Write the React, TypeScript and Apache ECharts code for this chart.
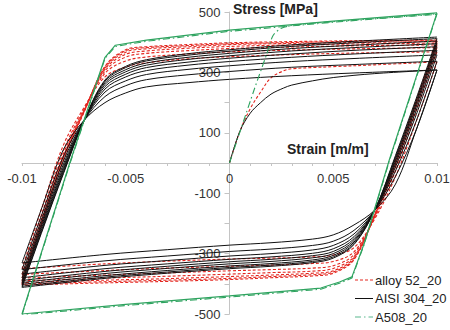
import React, { useEffect, useRef } from 'react';
import * as echarts from 'echarts';

// ---- strain samples (m/m) ----
const upStrain = [-0.01, -0.009, -0.008, -0.007, -0.006, -0.005, -0.004, -0.002, 0, 0.003, 0.006, 0.01];
const downStrain = [0.01, 0.009, 0.008, 0.007, 0.006, 0.005, 0.004, 0.002, 0, -0.003, -0.006, -0.01];
const initStrain = [0, 0.0005, 0.001, 0.0015, 0.002, 0.0026, 0.003, 0.004, 0.005, 0.007, 0.01];

// ---- AISI 304_20 (MPa) ----
const aisiInitial = [0, 105, 165, 200, 228, 248, 258, 272, 283, 296, 308];
const aisiLower = [
  [308, 110, -70, -156, -205, -238, -252, -264, -272, -287, -303, -331],
  [308, 110, -44, -156, -223, -259, -273, -285, -293, -308, -324, -353],
  [337, 139, -26, -156, -235, -273, -288, -300, -308, -323, -339, -368],
  [358, 160, -13, -156, -244, -284, -299, -311, -319, -334, -350, -380],
  [373, 175, -3, -156, -251, -293, -307, -319, -327, -342, -359, -389],
  [385, 187, 6, -156, -257, -300, -314, -326, -334, -349, -366, -396],
  [395, 197, 14, -156, -262, -306, -321, -333, -341, -356, -373, -402],
  [404, 206, 20, -156, -267, -311, -326, -338, -346, -361, -378, -408],
  [412, 214, 25, -156, -270, -315, -330, -342, -350, -365, -382, -412],
];
const aisiUpper = [
  [-331, -140, 45, 142, 200, 232, 252, 266, 277, 289, 298, 308],
  [-353, -162, 23, 142, 220, 256, 276, 292, 303, 317, 326, 337],
  [-368, -177, 8, 142, 235, 272, 293, 310, 322, 336, 346, 358],
  [-380, -188, -3, 142, 245, 285, 306, 324, 336, 350, 361, 373],
  [-389, -197, -12, 142, 253, 294, 316, 334, 347, 361, 373, 385],
  [-396, -204, -19, 142, 260, 302, 324, 343, 355, 371, 382, 395],
  [-402, -210, -25, 142, 266, 309, 331, 350, 363, 379, 390, 404],
  [-408, -216, -31, 142, 271, 316, 338, 357, 370, 386, 398, 412],
  [-412, -220, -35, 142, 275, 320, 342, 362, 375, 391, 403, 417],
];

// ---- alloy 52_20 (MPa) ----
const alloyInitial = [0, 105, 180, 235, 282, 305, 312, 316, 319, 325, 335];
const alloyLower = [
  [335, 138, -45, -185, -280, -305, -311, -315, -318, -325, -334, -350],
  [368, 171, -26, -180, -294, -326, -333, -338, -342, -348, -356, -369],
  [382, 185, -13, -176, -303, -340, -348, -353, -357, -364, -371, -381],
  [391, 194, -4, -174, -310, -349, -358, -363, -368, -375, -381, -390],
  [397, 200, 2, -172, -314, -357, -365, -371, -376, -383, -388, -396],
  [402, 205, 7, -171, -318, -361, -370, -376, -382, -388, -393, -401],
  [405, 208, 10, -170, -320, -365, -374, -380, -386, -392, -397, -404],
];
const alloyUpper = [
  [-350, -140, 60, 185, 285, 318, 332, 345, 352, 359, 364, 368],
  [-369, -159, 42, 180, 297, 338, 351, 361, 368, 374, 378, 382],
  [-381, -172, 31, 176, 305, 351, 363, 372, 379, 384, 388, 391],
  [-390, -181, 23, 174, 311, 360, 371, 380, 386, 391, 394, 397],
  [-396, -187, 17, 172, 315, 367, 378, 385, 392, 396, 399, 402],
  [-401, -192, 13, 171, 318, 372, 382, 389, 395, 399, 403, 405],
  [-404, -195, 10, 170, 320, 375, 385, 392, 398, 402, 405, 407],
];

// ---- A508_20 ----
const a508InitStrain = [0, 0.0012, 0.0018, 0.0021, 0.0025, 0.0031, 0.005, 0.01];
const a508Initial = [0, 245, 362, 422, 446, 456, 468, 492];
const a508UpStrain = [-0.01, -0.0077, -0.006, -0.0055, -0.004, 0, 0.005, 0.01];
const a508DownStrain = [0.01, 0.0077, 0.0065, 0.0059, 0.0053, 0.0044, 0, -0.005, -0.01];
const a508Upper1 = [-503, -4, 346, 386, 403, 436, 466, 494];
const a508Lower1 = [494, 6, -268, -381, -398, -418, -444, -472, -503];
const a508Upper2 = [-500, 0, 350, 390, 407, 440, 470, 497];
const a508Lower2 = [497, 10, -265, -377, -394, -414, -440, -468, -500];

const legendNames = ['alloy 52_20', 'AISI 304_20', 'A508_20'];
const xTicks = { min: -0.01, max: 0.01, step: 0.001 };
const yTicks = { min: -500, max: 500, step: 100 };

const BLACK = '#111111';
const RED = '#e3261f';
const GREEN = '#2ea35f';
const FONT = '"Liberation Sans", Arial, sans-serif';

const pairs = (xs: number[], ys: number[]) => xs.map((x, i) => [x, ys[i]]);

const mk = (name: string, data: number[][], color: string, type: any, width: number, smooth: number | boolean, z: number) => ({
  type: 'line',
  name,
  data,
  symbol: 'none',
  smooth,
  silent: true,
  z,
  lineStyle: { color, type, width },
  itemStyle: { color },
});

const GRID = { left: 22, right: 13, top: 12, bottom: 16 };
const W = 450;
const H = 330;

export default function App() {
  const ref = useRef<HTMLDivElement>(null);
  useEffect(() => {
    if (!ref.current) return;
    const chart = echarts.init(ref.current, undefined, { renderer: 'svg' });
    const series: any[] = [];
    // alloy 52 (drawn first, black lies over it)
    const redDash = [3, 2];
    series.push(mk('alloy 52_20', pairs(initStrain, alloyInitial), RED, redDash, 1.1, 0.35, 2));
    alloyUpper.forEach((up, k) => {
      series.push(mk('alloy 52_20', pairs(downStrain, alloyLower[k]), RED, redDash, 1.1, 0.35, 2));
      series.push(mk('alloy 52_20', pairs(upStrain, up), RED, redDash, 1.1, 0.35, 2));
    });
    // AISI 304
    series.push(mk('AISI 304_20', pairs(initStrain, aisiInitial), BLACK, 'solid', 1, 0.35, 3));
    aisiUpper.forEach((up, k) => {
      series.push(mk('AISI 304_20', pairs(downStrain, aisiLower[k]), BLACK, 'solid', 1, 0.35, 3));
      series.push(mk('AISI 304_20', pairs(upStrain, up), BLACK, 'solid', 1, 0.35, 3));
    });
    // A508
    const dashDot = [7, 3, 1.5, 3];
    series.push(mk('A508_20', pairs(a508InitStrain, a508Initial), GREEN, dashDot, 1.1, 0.3, 4));
    series.push(mk('A508_20', pairs(a508DownStrain, a508Lower1), GREEN, dashDot, 1.1, false, 4));
    series.push(mk('A508_20', pairs(a508UpStrain, a508Upper1), GREEN, dashDot, 1.1, false, 4));
    series.push(mk('A508_20 cycle 2', pairs(a508DownStrain, a508Lower2), GREEN, 'solid', 1.2, false, 4));
    series.push(mk('A508_20 cycle 2', pairs(a508UpStrain, a508Upper2), GREEN, 'solid', 1.2, false, 4));

    const gridH = H - GRID.top - GRID.bottom;
    const gridW = W - GRID.left - GRID.right;

    // custom legend (line samples + text)
    const legendStyles = [
      { stroke: RED, lineDash: [3, 2], lineWidth: 1.1 },
      { stroke: BLACK, lineDash: null, lineWidth: 1 },
      { stroke: '#5bb88e', lineDash: [6, 3, 1.5, 3], lineWidth: 1.1 },
    ];
    const legendRowsY = [280, 298.5, 317];
    const legendGraphics: any[] = [];
    legendNames.forEach((name, i) => {
      legendGraphics.push({
        type: 'line',
        shape: { x1: 355, y1: legendRowsY[i], x2: 373, y2: legendRowsY[i] },
        style: { ...legendStyles[i] },
        silent: true,
      });
      legendGraphics.push({
        type: 'text',
        x: 375,
        y: legendRowsY[i],
        style: { text: name, font: `13px ${FONT}`, fill: '#222', textVerticalAlign: 'middle', verticalAlign: 'middle' },
        silent: true,
      });
    });

    chart.setOption({
      animation: false,
      grid: { ...GRID, containLabel: false, outerBoundsMode: 'none' },
      xAxis: {
        type: 'value',
        position: 'bottom',
        offset: -gridH / 2,
        min: xTicks.min,
        max: xTicks.max,
        interval: xTicks.step,
        axisLine: { onZero: false, lineStyle: { color: '#c4c4c4', width: 1 } },
        axisTick: { show: true, length: 3, inside: false, lineStyle: { color: '#c4c4c4' } },
        splitLine: { show: false },
        axisLabel: {
          margin: 9,
          fontSize: 13,
          color: '#333',
          fontFamily: FONT,
          showMinLabel: true,
          showMaxLabel: true,
          formatter: (v: number) => {
            const m = Math.round(v * 1000);
            return m % 5 === 0 ? String(Number(v.toFixed(4))) : '';
          },
        },
      },
      yAxis: {
        type: 'value',
        position: 'left',
        offset: -gridW / 2,
        min: yTicks.min,
        max: yTicks.max,
        interval: yTicks.step,
        axisLine: { onZero: false, lineStyle: { color: '#c4c4c4', width: 1 } },
        axisTick: { show: true, length: 5, lineStyle: { color: '#c4c4c4' } },
        splitLine: { show: false },
        axisLabel: {
          margin: 9,
          fontSize: 13,
          color: '#333',
          fontFamily: FONT,
          formatter: (v: number) => (Math.round(v) % 200 !== 0 ? String(Math.round(v)) : ''),
        },
      },
      graphic: [
        { type: 'text', left: 233, top: 2, style: { text: 'Stress [MPa]', font: `bold 14px ${FONT}`, fill: '#222' } },
        { type: 'text', left: 287, top: 142, style: { text: 'Strain [m/m]', font: `bold 14px ${FONT}`, fill: '#222' } },
        ...legendGraphics,
      ],
      series,
    });
    return () => chart.dispose();
  }, []);
  return <div ref={ref} style={{ position: 'absolute', left: 0, top: 0, width: W, height: H, background: '#fff' }} />;
}
